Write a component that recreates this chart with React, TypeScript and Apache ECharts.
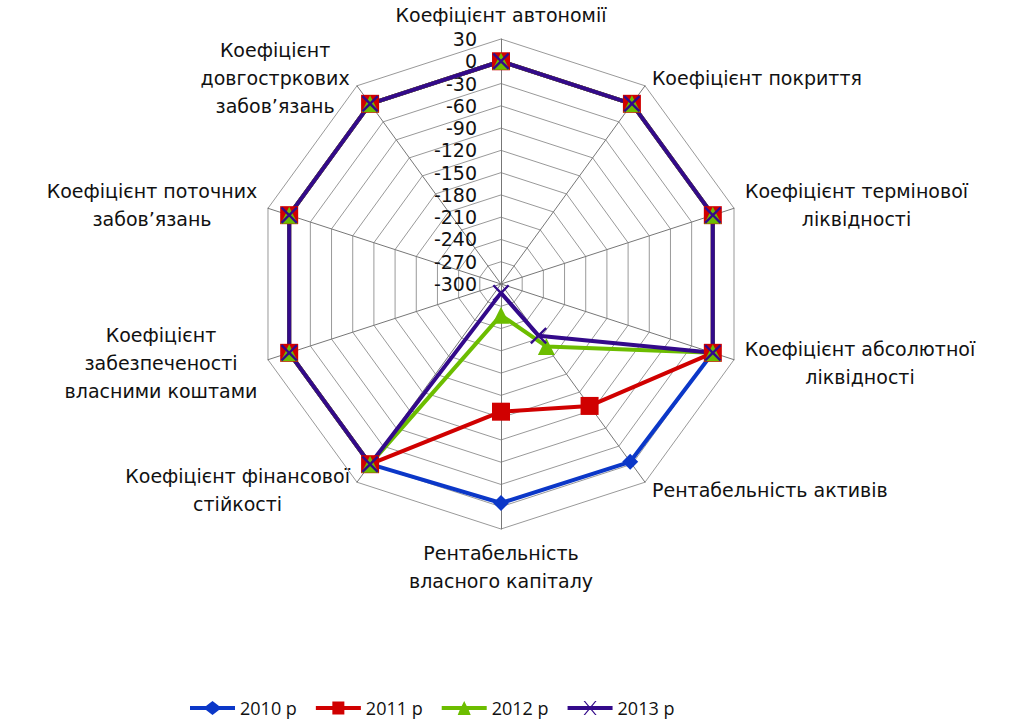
import React, { useEffect, useRef } from "react";
import * as echarts from "echarts";

// Indicators listed clockwise starting from the top (as in the reference)
const indicatorNames: string[] = [
  "Коефіцієнт автономії",
  "Коефіцієнт покриття",
  "Коефіцієнт термінової\nліквідності",
  "Коефіцієнт абсолютної\nліквідності",
  "Рентабельність активів",
  "Рентабельність\nвласного капіталу",
  "Коефіцієнт фінансової\nстійкості",
  "Коефіцієнт\nзабезпеченості\nвласними коштами",
  "Коефіцієнт поточних\nзабов’язань",
  "Коефіцієнт\nдовгостркових\nзабов’язань",
];

const seriesNames: string[] = ["2010 р", "2011 р", "2012 р", "2013 р"];

const values2010: number[] = [0, 0, 0, 0, -4, -5, 0, 0, 0, 0];
const values2011: number[] = [0, 0, 0, 0, -97, -128, 0, 0, 0, 0];
const values2012: number[] = [0, 0, 0, 0, -196, -258, 0, 0, 0, 0];
const values2013: number[] = [0, 0, 0, 0, -214, -288, 0, 0, 0, 0];

const axisMin = -300;
const axisMax = 30;
const axisSplits = 11;

const colors = ["#0B37C8", "#D00000", "#6CBD00", "#330A8A"];

const xSymbol =
  "path://M0,1.6L1.6,0L8,6.4L14.4,0L16,1.6L9.6,8L16,14.4L14.4,16L8,9.6L1.6,16L0,14.4L6.4,8Z";

const legendIcons = [
  "path://M0,5L16,5L22.5,0L29,5L45,5L45,9L29,9L22.5,14L16,9L0,9Z",
  "path://M0,5L16.5,5L16.5,0.5L28.5,0.5L28.5,5L45,5L45,9L28.5,9L28.5,13.5L16.5,13.5L16.5,9L0,9Z",
  "path://M0,5L20,5L22.5,0L25,5L45,5L45,9L27,9L29,14L16,14L18,9L0,9Z",
  "path://M0,5L45,5L45,9L0,9ZM16,0L17.5,0L29,14L27.5,14ZM27.5,0L29,0L17.5,14L16,14Z",
];

const FONT = '"DejaVu Sans", "Noto Sans", sans-serif';
const LEGEND_FONT = '"Open Sans", "Noto Sans", sans-serif';
const NAME_SIZE = 19;

export default function App() {
  const ref = useRef<HTMLDivElement>(null);

  useEffect(() => {
    if (!ref.current) return;
    const chart = echarts.init(ref.current, undefined, { renderer: "svg" });

    // ECharts places radar indicators counter-clockwise; reorder to get clockwise layout
    const order = [0, ...Array.from({ length: indicatorNames.length - 1 }, (_, i) => indicatorNames.length - 1 - i)];
    const reorder = (arr: number[]) => order.map((i) => arr[i]);

    // measure label widths for centred multi-line blocks
    const canvas = document.createElement("canvas");
    const ctx = canvas.getContext("2d")!;
    ctx.font = `${NAME_SIZE}px ${FONT}`;
    const rich: Record<string, any> = {};
    indicatorNames.forEach((n, i) => {
      const w = Math.max(...n.split("\n").map((l) => ctx.measureText(l).width));
      rich["c" + i] = {
        width: Math.ceil(w) + 2,
        align: "center",
        fontSize: NAME_SIZE,
        fontFamily: FONT,
        color: "#111",
        lineHeight: 28,
      };
    });

    const indicator = order.map((i, k) => ({
      name: indicatorNames[i],
      min: axisMin,
      max: axisMax,
      axisLabel: { show: k === 0 },
    }));

    const allValues = [values2010, values2011, values2012, values2013];
    const symbols = ["diamond", "rect", "triangle", xSymbol];
    const symbolSizes = [16, 18, 17, 17];

    chart.setOption({
      animation: false,
      backgroundColor: "#ffffff",
      color: colors,
      legend: {
        bottom: 1,
        left: 190,
        padding: 0,
        itemWidth: 45,
        itemHeight: 14,
        itemGap: 19,
        textStyle: { fontSize: 18, lineHeight: 22, fontFamily: LEGEND_FONT, color: "#111" },
        data: seriesNames.map((n, i) => ({ name: n, icon: legendIcons[i] })),
      },
      radar: {
        center: [501, 284],
        radius: 245,
        startAngle: 90,
        shape: "polygon",
        splitNumber: axisSplits,
        indicator,
        nameGap: 10,
        axisName: {
          color: "#111",
          fontSize: NAME_SIZE,
          fontFamily: FONT,
          formatter: (name: string) => {
            const idx = indicatorNames.indexOf(name);
            return name
              .split("\n")
              .map((l) => `{c${idx}|${l}}`)
              .join("\n");
          },
          rich,
        },
        axisLabel: {
          show: false,
          fontSize: 19,
          lineHeight: 20,
          fontFamily: FONT,
          color: "#111",
          margin: 24,
        },
        axisTick: { show: false },
        axisLine: { lineStyle: { color: "#777", width: 1 } },
        splitLine: { lineStyle: { color: "#999", width: 1 } },
        splitArea: { show: false },
      },
      series: [
        {
          type: "radar",
          data: allValues.map((vals, i) => ({
            name: seriesNames[i],
            value: reorder(vals),
            symbol: symbols[i],
            symbolSize: symbolSizes[i],
            lineStyle: { color: colors[i], width: 4 },
            itemStyle: { color: colors[i] },
          })),
        },
      ],
    });

    return () => chart.dispose();
  }, []);

  return (
    <div
      ref={ref}
      style={{ position: "fixed", left: 0, top: 0, width: 1028, height: 720 }}
    />
  );
}
